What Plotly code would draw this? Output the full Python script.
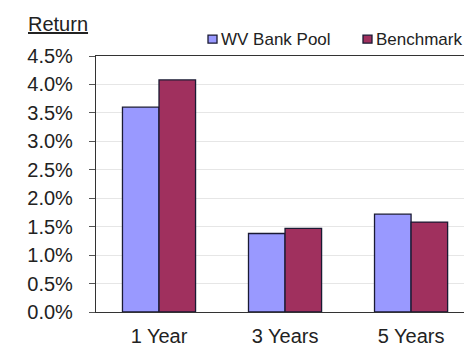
import plotly.graph_objects as go

categories = ["1 Year", "3 Years", "5 Years"]
wv_bank_pool = [0.0360, 0.0138, 0.0172]
benchmark = [0.0408, 0.0147, 0.0158]
y_ticks = [0.0, 0.005, 0.01, 0.015, 0.02, 0.025, 0.03, 0.035, 0.04, 0.045]

WV_COLOR = "#9999FF"
BM_COLOR = "#A0305E"
EDGE = "#1a1a33"
FONT = "Liberation Sans, Arial, sans-serif"

fig = go.Figure()
fig.add_trace(go.Bar(name="WV Bank Pool", x=categories, y=wv_bank_pool,
                     marker=dict(color=WV_COLOR, line=dict(color=EDGE, width=1.3)),
                     showlegend=False))
fig.add_trace(go.Bar(name="Benchmark", x=categories, y=benchmark,
                     marker=dict(color=BM_COLOR, line=dict(color=EDGE, width=1.3)),
                     showlegend=False))

fig.update_layout(
    width=464, height=347,
    margin=dict(l=96, r=0, t=56, b=33),
    paper_bgcolor="white", plot_bgcolor="white",
    barmode="group", bargap=0.42, bargroupgap=0,
    font=dict(family=FONT, size=20, color="#222222"),
)
fig.update_xaxes(range=[-0.5, 2.42], showline=True, linecolor="#333333", linewidth=1.2,
                 mirror=True, ticks="", showgrid=False,
                 tickfont=dict(size=20, color="#222222"), ticklabelstandoff=6)
fig.update_yaxes(range=[0, 0.045], tickvals=y_ticks, tickformat=".1%",
                 showline=True, linecolor="#333333", linewidth=1.2,
                 ticks="outside", ticklen=6, tickcolor="#555555",
                 showgrid=True, gridcolor="#e6e6e6", gridwidth=1, zeroline=False,
                 tickfont=dict(size=20, color="#222222"), ticklabelstandoff=12)

def px_x(p):
    return (p - 96) / 368

def px_y(p):
    return (314 - p) / 258

# Title-like label
fig.add_annotation(text="<u>Return</u>", xref="paper", yref="paper",
                   x=px_x(26), y=px_y(24), xanchor="left", yanchor="middle",
                   showarrow=False, font=dict(size=20, family=FONT, color="#222222"))

# Manual legend
legend_items = [("WV Bank Pool", WV_COLOR, 208), ("Benchmark", BM_COLOR, 363)]
for label, color, x0 in legend_items:
    fig.add_shape(type="rect", xref="paper", yref="paper",
                  x0=px_x(x0), x1=px_x(x0 + 9), y0=px_y(43), y1=px_y(35),
                  fillcolor=color, line=dict(color=EDGE, width=1.3))
    fig.add_annotation(text=label, xref="paper", yref="paper",
                       x=px_x(x0 + 11), y=px_y(39), xanchor="left", yanchor="middle",
                       showarrow=False, font=dict(size=17, family=FONT, color="#222222"))

fig.write_html("out.html")
